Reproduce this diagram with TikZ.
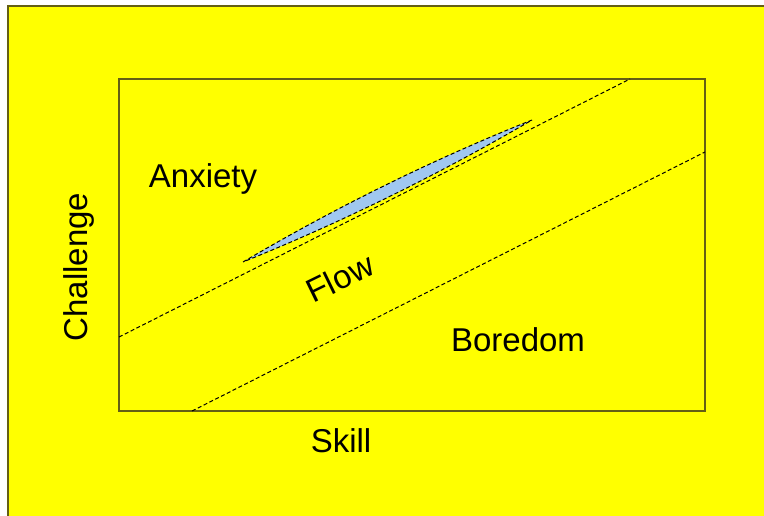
\documentclass[tikz,border=0pt]{standalone}
\usepackage{fontspec}
\setmainfont{Liberation Sans}
\definecolor{bgyellow}{RGB}{255,255,0}
\definecolor{frameline}{RGB}{100,95,20}
\definecolor{flowblue}{RGB}{160,200,240}
\begin{document}
\begin{tikzpicture}[x=1bp, y=-1bp, every node/.style={font=\fontsize{33bp}{40bp}\selectfont, inner sep=0pt}, zone/.style={dash pattern=on 4bp off 2.5bp, line width=1bp}]
        \useasboundingbox (0,0) rectangle (764,516);
        \fill[bgyellow] (8,6) rectangle (764,516);
        \draw[frameline, line width=1.5bp] (8,516) -- (8,6) -- (764,6);
        % chart frame
        \draw[frameline, line width=1.5bp] (119,79) rectangle (705,411);
        \draw[zone] (119,337) -- (630,79);
        \draw[zone] (192,411) -- (705,152);
        \draw[zone, fill=flowblue] (243,262) .. controls (335.5,207.5) and (431.5,160.1) .. (532,120)
            .. controls (438.5,174.5) and (342.5,221.9) .. (243,262);
        \node (anx) at (203,179) {Anxiety};
        \node[rotate=26] (flow) at (340,278) {Flow};
        \node (bor) at (518,340) {Boredom};
        \node (skill) at (341,441) {Skill};
        \node[rotate=90] (chal) at (79,267) {Challenge};
    \end{tikzpicture}
\end{document}
